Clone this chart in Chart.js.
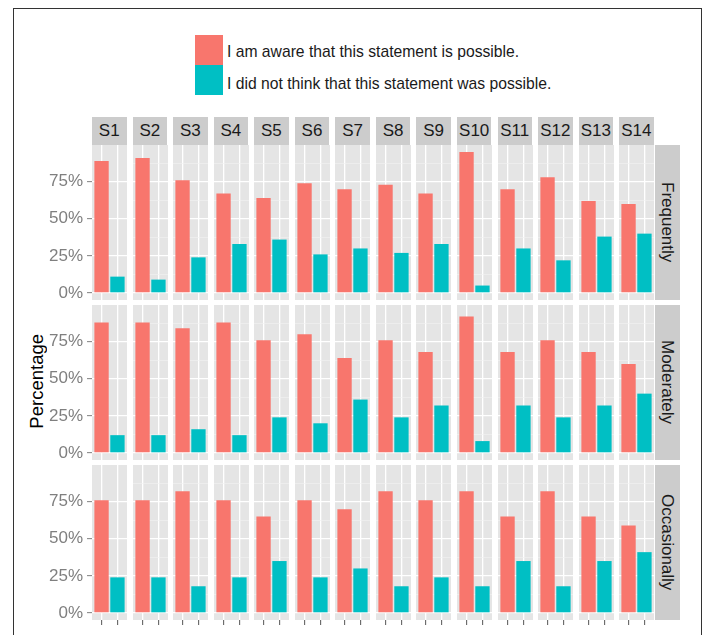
<!DOCTYPE html>
<html>
<head>
<meta charset="utf-8">
<script src="https://cdn.jsdelivr.net/npm/chart.js@4"></script>
<style>
body { margin: 0; background: #fff; font-family: "Liberation Sans", Arial, sans-serif; }
#wrap { position: relative; width: 704px; height: 635px; overflow: hidden; }
#frame { position: absolute; left: 13px; top: 8px; width: 689px; height: 700px; border: 1px solid #333; box-sizing: border-box; }
.strip { position: absolute; background: #cccccc; color: #1a1a1a; font-size: 17px; display: flex; align-items: center; justify-content: center; }
.rstrip { writing-mode: vertical-rl; }
canvas { position: absolute; }
.key { position: absolute; width: 28px; height: 30px; }
.keytxt { position: absolute; font-size: 15.7px; color: #1a1a1a; white-space: nowrap; }
#ylab { position: absolute; left: 26px; top: 334px; font-size: 18.5px; color: #000; writing-mode: vertical-rl; transform: rotate(180deg); }
</style>
</head>
<body>
<div id="wrap">
  <div id="frame"></div>
  <div class="key" style="left:195px;top:35px;background:#F8766D"></div>
  <div class="key" style="left:195px;top:65px;background:#00BFC4"></div>
  <div class="keytxt" id="k0" style="left:227px;top:43px"></div>
  <div class="keytxt" id="k1" style="left:227px;top:75px"></div>
  <div id="ylab">Percentage</div>
</div>
<script>
const statements = ['S1', 'S2', 'S3', 'S4', 'S5', 'S6', 'S7', 'S8', 'S9', 'S10', 'S11', 'S12', 'S13', 'S14'];
const frequencies = ['Frequently', 'Moderately', 'Occasionally'];
const responses = ['I am aware that this statement is possible.', 'I did not think that this statement was possible.'];

const awareFrequently = [0.89, 0.91, 0.76, 0.67, 0.64, 0.74, 0.70, 0.73, 0.67, 0.95, 0.70, 0.78, 0.62, 0.60];
const notThoughtFrequently = [0.11, 0.09, 0.24, 0.33, 0.36, 0.26, 0.30, 0.27, 0.33, 0.05, 0.30, 0.22, 0.38, 0.40];
const awareModerately = [0.88, 0.88, 0.84, 0.88, 0.76, 0.80, 0.64, 0.76, 0.68, 0.92, 0.68, 0.76, 0.68, 0.60];
const notThoughtModerately = [0.12, 0.12, 0.16, 0.12, 0.24, 0.20, 0.36, 0.24, 0.32, 0.08, 0.32, 0.24, 0.32, 0.40];
const awareOccasionally = [0.76, 0.76, 0.82, 0.76, 0.65, 0.76, 0.70, 0.82, 0.76, 0.82, 0.65, 0.82, 0.65, 0.59];
const notThoughtOccasionally = [0.24, 0.24, 0.18, 0.24, 0.35, 0.24, 0.30, 0.18, 0.24, 0.18, 0.35, 0.18, 0.35, 0.41];

const yTicks = [0, 0.25, 0.5, 0.75];
const yMinorTicks = [0.125, 0.375, 0.625, 0.875];

const awareRows = [awareFrequently, awareModerately, awareOccasionally];
const notThoughtRows = [notThoughtFrequently, notThoughtModerately, notThoughtOccasionally];

// ggplot-like panel grid
const panelLeft = 92, panelStep = 40.55, panelW = 34.5;
const rowTops = [145, 305, 465], panelH = 155;
const yAxisW = 52, xAxisH = 16;

const wrap = document.getElementById('wrap');
document.getElementById('k0').textContent = responses[0];
document.getElementById('k1').textContent = responses[1];

// top strips
statements.forEach((s, i) => {
  const d = document.createElement('div');
  d.className = 'strip';
  d.style.left = (panelLeft + i * panelStep) + 'px';
  d.style.top = '117px';
  d.style.width = panelW + 'px';
  d.style.height = '28px';
  d.textContent = s;
  wrap.appendChild(d);
});
// right strips
frequencies.forEach((f, r) => {
  const d = document.createElement('div');
  d.className = 'strip rstrip';
  d.style.left = (panelLeft + 13 * panelStep + panelW + 1) + 'px';
  d.style.top = rowTops[r] + 'px';
  d.style.width = '25px';
  d.style.height = panelH + 'px';
  d.textContent = f;
  wrap.appendChild(d);
});

const panelBg = {
  id: 'panelBg',
  beforeDraw(chart) {
    const a = chart.chartArea;
    chart.ctx.save();
    chart.ctx.fillStyle = '#E5E5E5';
    chart.ctx.fillRect(a.left, a.top, a.right - a.left, a.bottom - a.top);
    chart.ctx.restore();
  }
};

function isMajor(v) {
  return yTicks.some(t => Math.abs(t - v) < 1e-6);
}

function makePanel(r, i) {
  const firstCol = i === 0;
  const bottom = r === 2;
  const c = document.createElement('canvas');
  const left = panelLeft + i * panelStep - (firstCol ? yAxisW : 0);
  const w = panelW + (firstCol ? yAxisW : 0);
  const h = panelH + (bottom ? xAxisH : 0);
  c.width = Math.round(w);
  c.height = h;
  c.style.left = left + 'px';
  c.style.top = rowTops[r] + 'px';
  c.style.width = Math.round(w) + 'px';
  c.style.height = h + 'px';
  wrap.appendChild(c);

  new Chart(c, {
    type: 'bar',
    data: {
      datasets: [
        { label: responses[0], data: [{ x: 1, y: awareRows[r][i] }], backgroundColor: '#F8766D' },
        { label: responses[1], data: [{ x: 2, y: notThoughtRows[r][i] }], backgroundColor: '#00BFC4' }
      ]
    },
    options: {
      responsive: false,
      animation: false,
      layout: { padding: 0 },
      datasets: { bar: { grouped: false, barPercentage: 0.9, categoryPercentage: 1 } },
      plugins: { legend: { display: false }, tooltip: { enabled: false } },
      scales: {
        x: {
          type: 'linear',
          min: 0.4,
          max: 2.6,
          offset: false,
          afterBuildTicks: s => { s.ticks = [{ value: 1 }, { value: 2 }]; },
          afterFit: s => { s.height = bottom ? xAxisH : 0; s.paddingLeft = 0; s.paddingRight = 0; },
          ticks: { display: false },
          border: { display: false },
          grid: { offset: false, color: '#FFFFFF', lineWidth: 1.3, drawTicks: bottom, tickLength: 5, tickColor: '#555555', tickWidth: 1 }
        },
        y: {
          min: -0.0475,
          max: 0.9975,
          afterBuildTicks: s => {
            s.ticks = yTicks.concat(yMinorTicks).sort((a, b) => a - b).map(v => ({ value: v }));
          },
          afterFit: s => { s.width = firstCol ? yAxisW : 0; s.paddingTop = 0; s.paddingBottom = 0; },
          ticks: {
            display: firstCol,
            color: '#7F7F7F',
            padding: 4,
            font: { family: '"Liberation Sans", Arial, sans-serif', size: 17 },
            callback: v => isMajor(v) ? Math.round(v * 100) + '%' : ''
          },
          border: { display: false },
          grid: {
            color: ctx => isMajor(ctx.tick.value) ? '#FFFFFF' : '#F2F2F2',
            lineWidth: ctx => isMajor(ctx.tick.value) ? 1.3 : 0.6,
            drawTicks: firstCol,
            tickLength: 5,
            tickWidth: 1,
            tickColor: ctx => isMajor(ctx.tick.value) ? '#7F7F7F' : 'rgba(0,0,0,0)'
          }
        }
      }
    },
    plugins: [panelBg]
  });
}

for (let r = 0; r < 3; r++) {
  for (let i = 0; i < statements.length; i++) {
    makePanel(r, i);
  }
}
</script>
</body>
</html>
